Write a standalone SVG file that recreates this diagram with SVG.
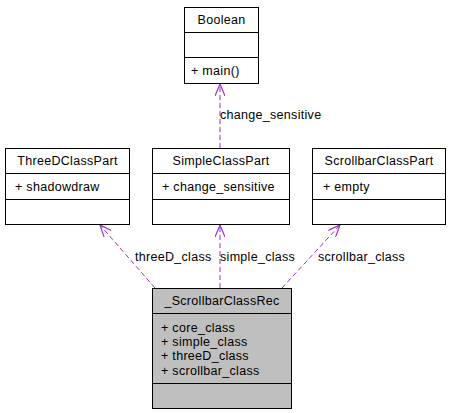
<svg xmlns="http://www.w3.org/2000/svg" width="450" height="413" viewBox="0 0 450 413">
<style>
.box{fill:#ffffff;stroke:#000000;stroke-width:1}
.rec{fill:#bfbfbf;stroke:#000000;stroke-width:1}
.sep{stroke:#000000;stroke-width:1}
text{font-family:"Liberation Sans",Arial,sans-serif;font-size:12.5px;letter-spacing:0.3px;fill:#000000}
.c{text-anchor:middle}
.edge{fill:none;stroke:#9a32cd;stroke-width:1;stroke-dasharray:5,3}
</style>
<defs>
<marker id="open" viewBox="0 0 12 10" refX="12" refY="5" markerWidth="12" markerHeight="10" orient="auto" markerUnits="userSpaceOnUse">
<path d="M0,0 L12,5 L0,10" fill="none" stroke="#9a32cd" stroke-width="1.2"/>
</marker>
</defs>
<rect width="450" height="413" fill="#ffffff"/>
<g id="connectors">
<line class="edge" x1="220" y1="148" x2="220" y2="84" marker-end="url(#open)"/>
<text x="220" y="119">change_sensitive</text>
<line class="edge" x1="155" y1="288" x2="100" y2="225" marker-end="url(#open)"/>
<text x="135" y="261">threeD_class</text>
<line class="edge" x1="220" y1="288" x2="220" y2="225" marker-end="url(#open)"/>
<text x="220" y="261">simple_class</text>
<line class="edge" x1="282" y1="288" x2="340" y2="225" marker-end="url(#open)"/>
<text x="318" y="261">scrollbar_class</text>
</g>
<g id="Boolean">
<rect class="box" x="184.5" y="7.5" width="74" height="76"/>
<line class="sep" x1="184.5" y1="32.5" x2="258.5" y2="32.5"/>
<line class="sep" x1="184.5" y1="57.5" x2="258.5" y2="57.5"/>
<text class="c" x="221.5" y="24">Boolean</text>
<text x="191" y="75">+ main()</text>
</g>
<g id="ThreeDClassPart">
<rect class="box" x="5.5" y="148.5" width="124" height="76"/>
<line class="sep" x1="5.5" y1="173.5" x2="129.5" y2="173.5"/>
<line class="sep" x1="5.5" y1="199.5" x2="129.5" y2="199.5"/>
<text class="c" x="67.5" y="165">ThreeDClassPart</text>
<text x="15" y="191">+ shadowdraw</text>
</g>
<g id="SimpleClassPart">
<rect class="box" x="152.5" y="148.5" width="137" height="76"/>
<line class="sep" x1="152.5" y1="173.5" x2="289.5" y2="173.5"/>
<line class="sep" x1="152.5" y1="199.5" x2="289.5" y2="199.5"/>
<text class="c" x="221" y="165">SimpleClassPart</text>
<text x="162" y="191">+ change_sensitive</text>
</g>
<g id="ScrollbarClassPart">
<rect class="box" x="312.5" y="148.5" width="133" height="76"/>
<line class="sep" x1="312.5" y1="173.5" x2="445.5" y2="173.5"/>
<line class="sep" x1="312.5" y1="199.5" x2="445.5" y2="199.5"/>
<text class="c" x="379" y="165">ScrollbarClassPart</text>
<text x="323" y="191">+ empty</text>
</g>
<g id="_ScrollbarClassRec">
<rect class="rec" x="152.5" y="288.5" width="139" height="120"/>
<line class="sep" x1="152.5" y1="313.5" x2="291.5" y2="313.5"/>
<line class="sep" x1="152.5" y1="383.5" x2="291.5" y2="383.5"/>
<text class="c" x="222" y="305">_ScrollbarClassRec</text>
<text x="161" y="332">+ core_class</text>
<text x="161" y="346">+ simple_class</text>
<text x="161" y="360">+ threeD_class</text>
<text x="161" y="375">+ scrollbar_class</text>
</g>
</svg>
